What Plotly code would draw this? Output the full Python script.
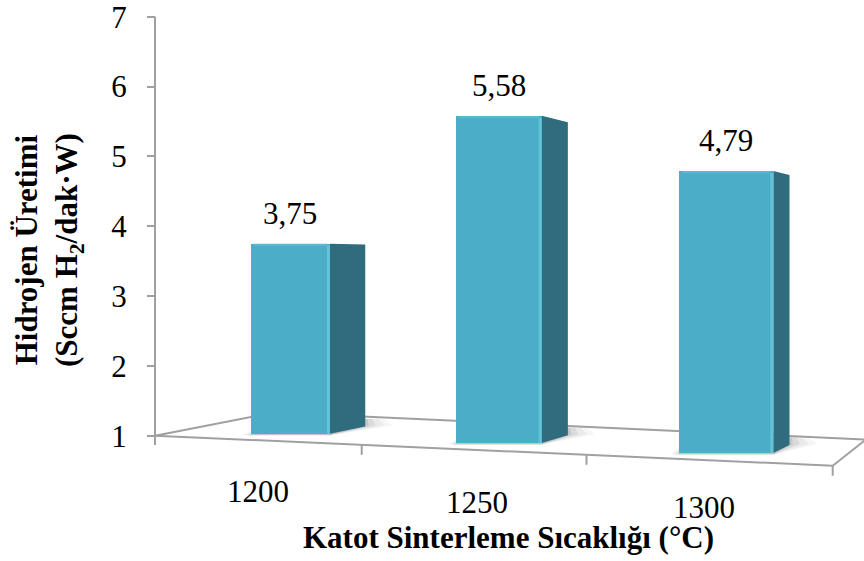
import plotly.graph_objects as go

# ---- data -------------------------------------------------------------
temperatures = ["1200", "1250", "1300"]          # Katot sinterleme sıcaklığı (°C)
h2_production = [3.75, 5.58, 4.79]              # Sccm H2 / dak·W
y_tick_values = [1, 2, 3, 4, 5, 6, 7]

# ---- canvas / scale ----------------------------------------------------
W, H = 864, 561
Y1_PX, Y7_PX = 435.7, 16.7                       # rows of the 1 and 7 ticks
PX_PER_UNIT = (Y1_PX - Y7_PX) / 6.0


def row_to_val(py):
    return 1 + (Y1_PX - py) / PX_PER_UNIT


def val_to_row(val):
    return Y1_PX - (val - 1) * PX_PER_UNIT


# ---- 3-D floor (perspective) ------------------------------------------
AXIS_X = 155.0
FLOOR_FL = (155.0, 435.7)
FLOOR_FR = (832.7, 465.7)
FLOOR_BR = (865.7, 439.6)
FLOOR_BL = (275.0, 412.4)
CAT_EDGES = [155.0, 361.7, 586.5, 832.7]         # category boundaries on front edge
BAR_SLOTS = [(250.7, 330.0), (456.0, 541.7), (679.3, 773.3)]
LABEL_POS = [(258.0, 491.0), (477.0, 502.0), (704.0, 507.0)]  # category label centres
VANISH = (1150.0, 265.0)
DEPTH = 0.043
GRID = "#A0A0A0"
FRONT = "#4BADC7"
SIDE = "#2F6C7D"
FONT = "Liberation Serif, Times New Roman, serif"
FS = 31


def front_edge_row(x):
    (x0, y0), (x1, y1) = FLOOR_FL, FLOOR_FR
    return y0 + (y1 - y0) * (x - x0) / (x1 - x0)


def recede(px, py):
    return px + DEPTH * (VANISH[0] - px), py + DEPTH * (VANISH[1] - py)


fig = go.Figure()
shapes = []


def seg(p, q, width=2, color=GRID):
    shapes.append(dict(type="line", xref="x", yref="y", layer="below",
                       x0=p[0], y0=row_to_val(p[1]), x1=q[0], y1=row_to_val(q[1]),
                       line=dict(color=color, width=width)))


def poly(points, fill):
    path = "M " + " L ".join(f"{x:.2f},{row_to_val(y):.5f}" for x, y in points) + " Z"
    shapes.append(dict(type="path", xref="x", yref="y", layer="below", path=path,
                       fillcolor=fill, line=dict(width=0)))


# floor outline
seg(FLOOR_FL, FLOOR_FR)
seg(FLOOR_FR, FLOOR_BR)
seg(FLOOR_BR, FLOOR_BL)
seg(FLOOR_BL, FLOOR_FL)
# category ticks hanging from the front edge
for cx in CAT_EDGES[1:]:
    r = front_edge_row(cx)
    seg((cx, r), (cx, r + 10))
# value axis line (runs a little below the 1 tick)
seg((AXIS_X, Y7_PX), (AXIS_X, 445.0))

# ---- bars ---------------------------------------------------------------
centers, widths, bases, heights = [], [], [], []
for (xl, xr), val in zip(BAR_SLOTS, h2_production):
    cx = (xl + xr) / 2
    bottom_row = front_edge_row(cx) - 8
    top_row = val_to_row(val)

    # soft contact shadow on the floor around each column's foot
    for grow, alpha in [(16, 0.05), (11, 0.07), (6, 0.10), (2, 0.14)]:
        p1 = (xl - grow * 0.6, bottom_row + 1.5)
        p2 = (xr, bottom_row + 1.5)
        p3 = recede(xr + grow * 1.8, bottom_row - 1)
        p4 = recede(xr + grow * 1.2, bottom_row - 8)
        p5 = recede(xl - grow * 0.6, bottom_row - 6)
        poly([p1, p2, p3, p4, p5], f"rgba(80,80,80,{alpha})")

    # right-hand side face
    tb = recede(xr, top_row)
    bb = recede(xr, bottom_row)
    fig.add_trace(go.Scatter(
        x=[xr, tb[0], bb[0], xr, xr],
        y=[row_to_val(r) for r in (top_row, tb[1], bb[1], bottom_row, top_row)],
        fill="toself", mode="none", fillcolor=SIDE,
        hoverinfo="skip", showlegend=False))

    centers.append(cx)
    widths.append(xr - xl)
    bases.append(row_to_val(bottom_row))
    heights.append(val - row_to_val(bottom_row))

fig.add_trace(go.Bar(x=centers, y=heights, base=bases, width=widths,
                     marker=dict(color=FRONT, line=dict(width=0)),
                     hoverinfo="skip", showlegend=False))

# bevel highlights along the front face's right and top edges
for (xl, xr), val, b in zip(BAR_SLOTS, h2_production, bases):
    fig.add_trace(go.Scatter(x=[xr - 1.5, xr - 1.5], y=[b, val - 2 / PX_PER_UNIT],
                             mode="lines", line=dict(color="#63C3DB", width=3),
                             hoverinfo="skip", showlegend=False))
    fig.add_trace(go.Scatter(x=[xl + 3, xr - 3], y=[val - 1.2 / PX_PER_UNIT] * 2,
                             mode="lines", line=dict(color="#5CB9D2", width=2),
                             hoverinfo="skip", showlegend=False))

annotations = []
# value labels
for cx, val in zip(centers, h2_production):
    annotations.append(dict(x=cx, y=val, xref="x", yref="y", yanchor="bottom",
                            yshift=11, showarrow=False,
                            text=f"{val:.2f}".replace(".", ","),
                            font=dict(family=FONT, size=FS, color="black")))

# category labels, stepping down with the perspective
for (lx, ly), lab in zip(LABEL_POS, temperatures):
    annotations.append(dict(x=lx, y=row_to_val(ly), xref="x", yref="y",
                            showarrow=False, text=lab,
                            font=dict(family=FONT, size=FS, color="black")))

# axis titles
annotations.append(dict(x=508, y=row_to_val(537), xref="x", yref="y",
                        showarrow=False,
                        text="<b>Katot Sinterleme Sıcaklığı (°C)</b>",
                        font=dict(family=FONT, size=FS, color="black")))
annotations.append(dict(x=49, y=row_to_val(250), xref="x", yref="y",
                        showarrow=False, textangle=-90,
                        text="<b>Hidrojen Üretimi<br>(Sccm H<sub>2</sub>/dak·W)</b>",
                        font=dict(family=FONT, size=FS, color="black")))

fig.update_layout(
    width=W, height=H,
    margin=dict(l=0, r=0, t=0, b=0),
    paper_bgcolor="white", plot_bgcolor="white",
    shapes=shapes, annotations=annotations,
    xaxis=dict(range=[0, W], visible=False, fixedrange=True),
    yaxis=dict(range=[row_to_val(H), row_to_val(0)], anchor="free",
               position=AXIS_X / W, tickmode="array", tickvals=y_tick_values,
               ticks="outside", ticklen=8, tickwidth=2, tickcolor=GRID,
               ticklabelstandoff=14, ticklabeloverflow="allow",
               showgrid=False, zeroline=False, showline=False,
               tickfont=dict(family=FONT, size=FS, color="black"),
               fixedrange=True),
    bargap=0,
)

fig.write_html("out.html")
